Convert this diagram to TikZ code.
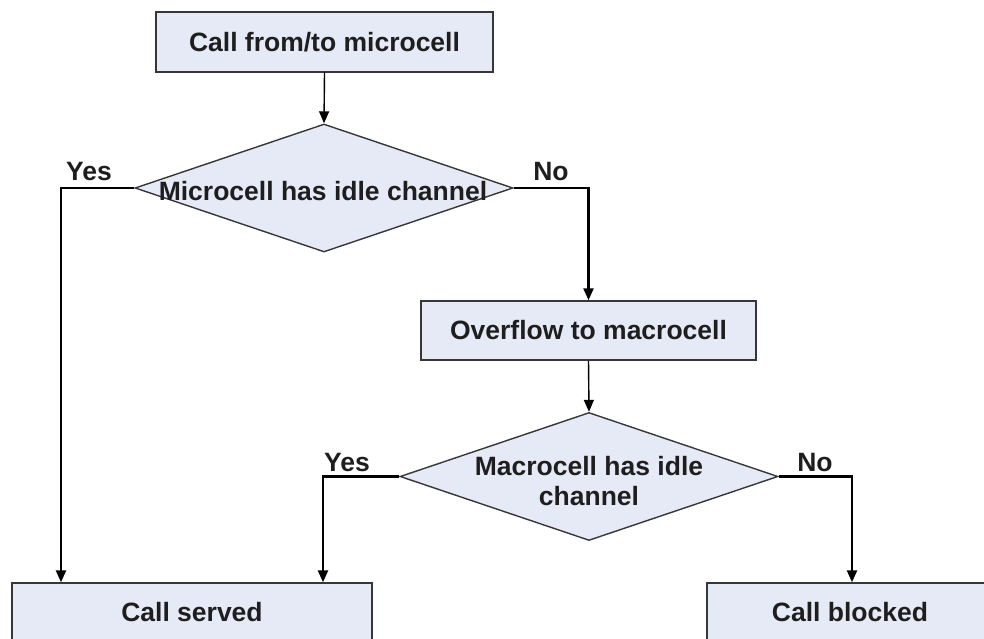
\documentclass[tikz,border=0pt]{standalone}
\usepackage{fontspec}
\setmainfont{Liberation Sans}
\usetikzlibrary{arrows.meta,shapes.geometric}

\definecolor{boxfill}{RGB}{229,234,246}
\definecolor{boxline}{RGB}{55,55,55}
\definecolor{inkcol}{RGB}{30,30,30}

\begin{document}
\begin{tikzpicture}[x=1pt,y=-1pt,
  every node/.style={font=\fontsize{26.5}{30}\selectfont\bfseries, text=inkcol},
  procbox/.style={draw=boxline, fill=boxfill, line width=1.4pt, rectangle, inner sep=0pt},
  decision/.style={draw=boxline, fill=boxfill, line width=1.4pt, diamond, inner sep=0pt,
                   minimum width=378pt, minimum height=128pt},
  flow/.style={-{Triangle[length=12pt,width=10pt]}, line width=1.4pt, black},
  branch/.style={-{Triangle[length=12pt,width=10pt]}, line width=2.3pt, black},
  tag/.style={inner sep=0pt}
]
\useasboundingbox (0,0) rectangle (984,639);
\clip (0,0) rectangle (984,639);

% process boxes and decisions
\node[procbox, minimum width=337pt, minimum height=60pt] (start) at (324.5,42) {Call from/to microcell};
\node[decision] (micro) at (324,188) {};
\node[tag] (microtxt) at (323,191) {Microcell has idle channel};
\node[procbox, minimum width=335pt, minimum height=59pt] (overflow) at (588.5,330.5) {Overflow to macrocell};
\node[decision] (macro) at (589,476.5) {};
\node[tag, align=center] (macrotxt) at (589,481) {Macrocell has idle\\channel};
\node[procbox, minimum width=360pt, minimum height=58pt] (served) at (192,612) {Call served};
\node[procbox, minimum width=286pt, minimum height=58pt] (blocked) at (850,612) {Call blocked};

% connectors
\draw[flow] (start.south) -- (micro.north);
\draw[branch] (micro.west) -| ([xshift=-131pt]served.north);
\draw[branch] (micro.east) -| (overflow.north);
\draw[flow] (overflow.south) -- (macro.north);
\draw[branch] (macro.west) -| ([xshift=131pt]served.north);
\draw[branch] (macro.east) -| ([xshift=2pt]blocked.north);

% branch labels
\node[tag] (yes1) at (89,172) {Yes};
\node[tag] (no1) at (551,172) {No};
\node[tag] (yes2) at (347,463) {Yes};
\node[tag] (no2) at (815,463) {No};
\end{tikzpicture}
\end{document}
